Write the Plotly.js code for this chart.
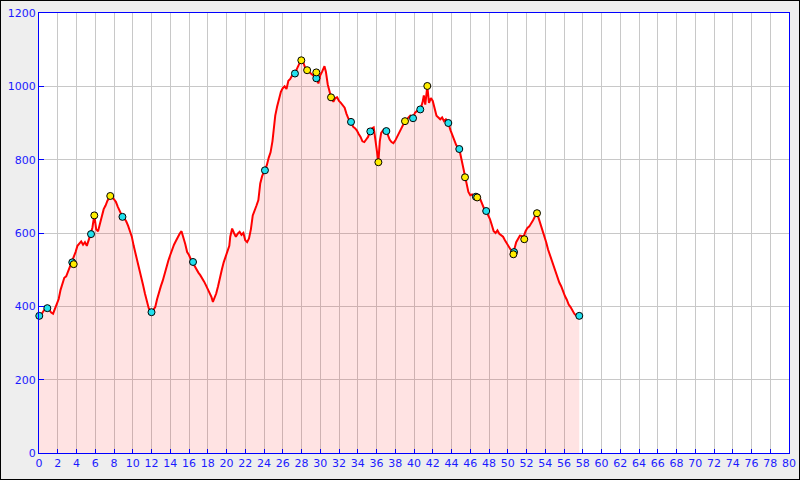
<!DOCTYPE html>
<html>
<head>
<meta charset="utf-8">
<script src="https://cdn.plot.ly/plotly-3.0.1.min.js"></script>
<style>
html,body{margin:0;padding:0;background:#eeeeee;}
#wrap{position:relative;width:800px;height:480px;}
#chart{width:800px;height:480px;}
#frame{position:absolute;left:0;top:0;width:798px;height:478px;border:1px solid #000;pointer-events:none;z-index:10;}
</style>
</head>
<body>
<div id="wrap"><div id="chart"></div><div id="frame"></div></div>
<script>
// Elevation profile (distance km, elevation m)
const distance = [0.0,0.3,0.6,0.9,1.1,1.3,1.5,1.7,1.9,2.1,2.3,2.5,2.7,2.9,3.1,3.3,3.5,3.7,3.9,4.1,4.3,4.5,4.7,4.9,5.1,5.3,5.5,5.7,5.9,6.1,6.3,6.5,6.7,6.9,7.1,7.3,7.6,7.8,8.0,8.2,8.4,8.6,8.9,9.1,9.3,9.5,9.7,9.9,10.1,10.3,10.5,10.7,10.9,11.1,11.3,11.5,11.7,12.0,12.2,12.4,12.6,12.8,13.0,13.2,13.4,13.6,13.8,14.0,14.2,14.4,14.6,14.8,15.0,15.2,15.4,15.6,15.8,16.0,16.2,16.4,16.6,16.8,17.0,17.2,17.4,17.6,17.8,18.0,18.2,18.4,18.55,18.7,18.9,19.1,19.3,19.5,19.7,19.9,20.1,20.3,20.4,20.6,20.8,21.0,21.2,21.4,21.6,21.8,22.0,22.2,22.4,22.6,22.8,23.0,23.2,23.4,23.6,23.8,24.1,24.3,24.5,24.7,24.9,25.0,25.2,25.4,25.6,25.8,26.0,26.2,26.4,26.6,26.8,27.0,27.3,27.5,27.7,27.95,28.2,28.4,28.6,28.8,29.0,29.2,29.4,29.6,29.8,30.0,30.2,30.45,30.6,30.8,31.0,31.15,31.4,31.6,31.8,32.0,32.2,32.4,32.6,32.8,33.0,33.3,33.5,33.7,33.9,34.1,34.3,34.5,34.7,34.9,35.1,35.3,35.5,35.7,35.9,36.05,36.2,36.35,36.5,36.7,37.05,37.2,37.4,37.6,37.8,38.0,38.2,38.4,38.6,38.8,39.04,39.3,39.6,39.9,40.1,40.4,40.67,40.9,41.05,41.2,41.42,41.6,41.8,42.0,42.2,42.4,42.6,42.8,43.0,43.2,43.4,43.66,43.9,44.1,44.3,44.5,44.83,45.0,45.2,45.44,45.6,45.8,46.0,46.2,46.4,46.6,46.74,46.9,47.1,47.3,47.5,47.7,47.9,48.1,48.3,48.5,48.7,48.9,49.1,49.3,49.5,49.7,49.9,50.1,50.3,50.55,50.7,50.9,51.1,51.3,51.5,51.7,51.9,52.1,52.3,52.5,52.7,52.9,53.1,53.3,53.5,53.7,53.9,54.1,54.3,54.5,54.7,54.9,55.1,55.3,55.5,55.7,55.9,56.1,56.3,56.5,56.7,56.9,57.1,57.3,57.63];
const elevation = [373,380,392,395,390,383,380,392,405,420,445,465,478,482,495,505,518,530,548,565,570,577,568,575,565,585,597,615,649,610,605,625,645,665,675,688,701,698,692,685,672,660,644,640,632,620,605,590,565,545,525,505,480,458,435,415,395,384,392,398,420,440,455,470,490,505,525,540,555,568,578,590,598,605,590,570,548,540,528,521,510,500,492,485,478,468,458,448,438,425,412,420,435,455,482,500,520,535,550,565,590,612,600,590,598,603,595,600,580,575,585,610,648,660,675,690,735,755,772,785,805,820,850,880,920,945,965,985,995,1000,993,1015,1020,1030,1036,1048,1060,1072,1065,1050,1044,1040,1035,1030,1028,1022,1008,1030,1040,1055,1040,1005,985,970,958,968,970,960,955,948,942,925,912,903,890,886,880,870,862,850,848,855,862,877,885,888,850,815,794,850,873,880,878,868,855,848,845,852,862,875,885,895,905,912,920,914,928,935,937,955,975,950,1000,955,968,960,935,920,915,910,915,905,910,900,880,866,850,840,829,810,780,752,735,712,703,705,698,700,697,705,690,675,665,660,650,638,622,605,600,607,598,595,590,580,572,562,555,548,555,575,585,593,592,590,605,614,618,625,635,645,654,640,625,605,590,575,555,540,523,510,495,478,465,455,440,428,418,405,398,388,380,375,374];

const cyanX = [0.03,0.89,3.55,5.55,8.9,12.0,16.43,24.1,27.3,29.58,33.28,35.34,37.05,39.9,40.67,43.66,44.83,46.6,47.7,50.67,57.63];
const cyanY = [374,395,520,597,644,384,521,771,1035,1022,903,877,878,913,937,900,829,699,660,548,374];
const yellowX = [3.7,5.9,7.6,27.98,28.6,29.58,31.15,36.2,39.04,41.42,45.44,46.74,50.6,51.76,53.12];
const yellowY = [515,648,701,1071,1044,1038,970,793,905,1001,752,697,542,583,654];

const xTicks = [];
for (let v = 0; v <= 80; v += 2) xTicks.push(v);
const yTicks = [0,200,400,600,800,1000,1200];

const traces = [
  {x: distance, y: elevation, type: 'scatter', mode: 'lines',
   line: {color: '#ff0000', width: 2}, fill: 'tozeroy', fillcolor: 'rgba(255,0,0,0.11)', hoverinfo: 'skip'},
  {x: cyanX, y: cyanY, type: 'scatter', mode: 'markers', cliponaxis: false,
   marker: {color: '#22e0ee', size: 7, line: {color: '#000', width: 1}}},
  {x: yellowX, y: yellowY, type: 'scatter', mode: 'markers', cliponaxis: false,
   marker: {color: '#ffee00', size: 7, line: {color: '#000', width: 1}}}
];

const axisCommon = {
  showline: true, linecolor: '#0000ff', linewidth: 1, mirror: true,
  ticks: 'inside', tickcolor: '#0000ff', ticklen: 4, tickwidth: 1,
  showgrid: true, gridcolor: '#c8c8c8', gridwidth: 1, zeroline: false,
  tickfont: {family: 'DejaVu Sans', size: 11, color: '#1a1aff'}
};

const layout = {
  width: 800, height: 480,
  margin: {l: 39, r: 11, t: 13, b: 27, pad: 0},
  paper_bgcolor: '#eeeeee', plot_bgcolor: '#ffffff',
  showlegend: false,
  xaxis: Object.assign({}, axisCommon, {range: [0, 80], tickvals: xTicks, ticktext: xTicks.map(String)}),
  yaxis: Object.assign({}, axisCommon, {range: [0, 1200], tickvals: yTicks, ticktext: yTicks.map(String), ticklen: 5})
};

Plotly.newPlot('chart', traces, layout, {displayModeBar: false, staticPlot: true});
</script>
</body>
</html>
